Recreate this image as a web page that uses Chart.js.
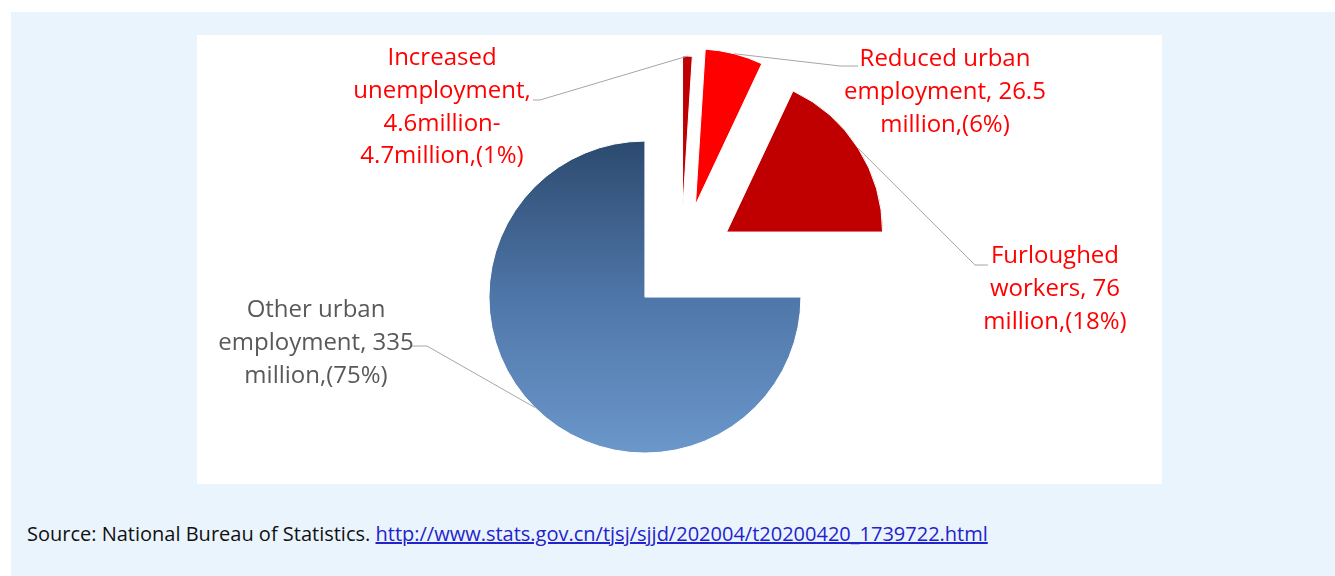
<!DOCTYPE html>
<html>
<head>
<meta charset="utf-8">
<script src="https://cdn.jsdelivr.net/npm/chart.js@4.4.0/dist/chart.umd.min.js"></script>
<style>
  body { margin: 0; width: 1335px; height: 576px; overflow: hidden; position: relative; background: #fff; font-family: "Open Sans", sans-serif; }
  #panel { position: absolute; left: 11px; top: 12px; right: 0; bottom: 0; background: #eaf4fd; }
  #box { position: absolute; left: 197px; top: 35px; width: 965px; height: 449px; background: #fff; }
  #source { position: absolute; left: 27px; top: 520px; font-size: 20px; color: #111; white-space: nowrap; }
  #source a { color: #2323cc; }
</style>
</head>
<body>
<div id="panel"></div>
<div id="box"><canvas id="chart" width="965" height="449"></canvas></div>
<div id="source">Source: National Bureau of Statistics. <a href="#">http://www.stats.gov.cn/tjsj/sjjd/202004/t20200420_1739722.html</a></div>
<script>
// slices, clockwise from 12 o'clock
const categories = ['Increased unemployment', 'Reduced urban employment', 'Furloughed workers', 'Other urban employment'];
const shares = [1, 6, 18, 75]; // %
const labelLines = [
  ['Increased', 'unemployment,', '4.6million-', '4.7million,(1%)'],
  ['Reduced urban', 'employment, 26.5', 'million,(6%)'],
  ['Furloughed', 'workers, 76', 'million,(18%)'],
  ['Other urban', 'employment, 335', 'million,(75%)']
];

const RADIUS = 156;
const sliceColors = ['#c00000', '#ff0000', '#c00000', null];
const explode = [49, 58, 54, 51];
// label layout: text centre x, first baseline, leader elbow, leader end
const labelPos = [
  { x: 245, y: 30, elbow: [343, 65], end: [336, 65], color: '#ff0000' },
  { x: 748, y: 31, elbow: [643, 31], end: [661, 31], color: '#ff0000' },
  { x: 858, y: 228, elbow: [778, 230], end: [791, 230], color: '#ff0000' },
  { x: 119, y: 282, elbow: [230, 311], end: [215, 311], color: '#595959' }
];

// draw each arc pushed out along its middle angle
const explodePlugin = {
  id: 'explode',
  beforeDatasetDraw(chart, args) {
    const ctx = chart.ctx;
    args.meta.data.forEach((arc, i) => {
      const mid = (arc.startAngle + arc.endAngle) / 2;
      ctx.save();
      ctx.translate(Math.cos(mid) * explode[i], Math.sin(mid) * explode[i]);
      arc.draw(ctx);
      ctx.restore();
    });
    return false;
  }
};

const labelPlugin = {
  id: 'sliceLabels',
  afterDatasetsDraw(chart) {
    const ctx = chart.ctx;
    const arcs = chart.getDatasetMeta(0).data;
    ctx.save();
    arcs.forEach((arc, i) => {
      const mid = (arc.startAngle + arc.endAngle) / 2;
      const d = explode[i] + arc.outerRadius;
      const p = labelPos[i];
      ctx.strokeStyle = '#a6a6a6';
      ctx.lineWidth = 1;
      ctx.beginPath();
      ctx.moveTo(arc.x + Math.cos(mid) * d, arc.y + Math.sin(mid) * d);
      ctx.lineTo(p.elbow[0], p.elbow[1]);
      ctx.lineTo(p.end[0], p.end[1]);
      ctx.stroke();

      ctx.fillStyle = p.color;
      ctx.font = '24px "Open Sans"';
      ctx.textAlign = 'center';
      ctx.textBaseline = 'alphabetic';
      labelLines[i].forEach((line, k) => ctx.fillText(line, p.x, p.y + k * 32.8));
    });
    ctx.restore();
  }
};

new Chart(document.getElementById('chart'), {
  type: 'pie',
  data: {
    labels: categories,
    datasets: [{
      data: shares,
      borderWidth: 1,
      borderColor: '#ffffff',
      backgroundColor: (c) => {
        const col = sliceColors[c.dataIndex];
        if (col) return col;
        const a = c.chart.chartArea;
        if (!a) return '#4f77a8';
        const cy = (a.top + a.bottom) / 2;
        const g = c.chart.ctx.createLinearGradient(0, cy - RADIUS, 0, cy + RADIUS);
        g.addColorStop(0, '#2c4a6f');
        g.addColorStop(0.5, '#4f76a8');
        g.addColorStop(1, '#6b97cb');
        return g;
      }
    }]
  },
  options: {
    responsive: false,
    animation: false,
    events: [],
    radius: RADIUS,
    layout: { padding: { left: 3, top: 3 } },
    plugins: { legend: { display: false }, tooltip: { enabled: false } }
  },
  plugins: [explodePlugin, labelPlugin]
});
</script>
</body>
</html>
